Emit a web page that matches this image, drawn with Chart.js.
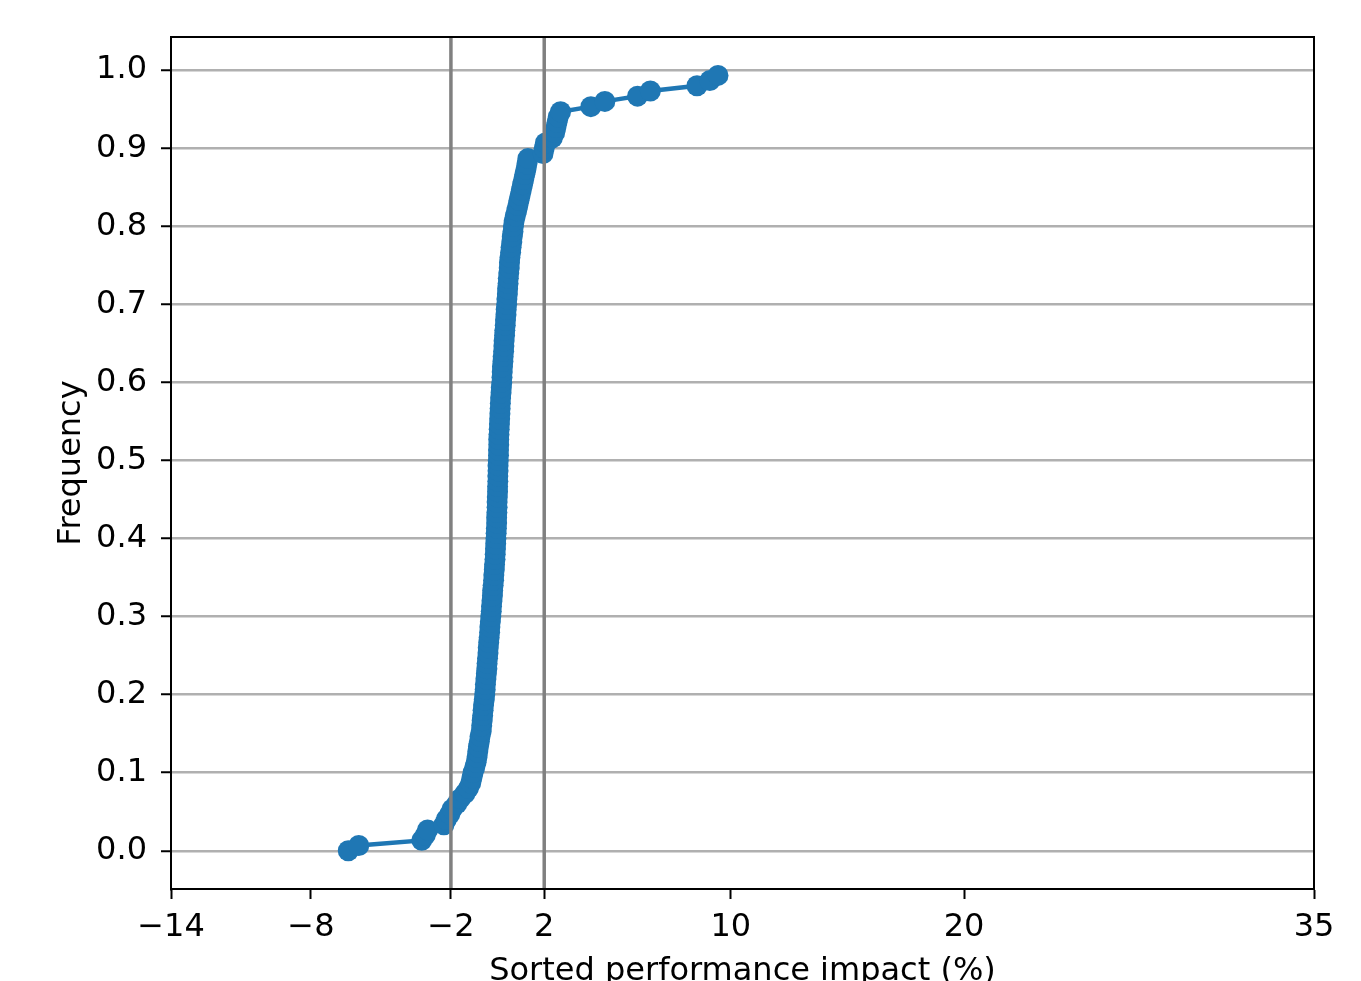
<!DOCTYPE html>
<html><head><meta charset="utf-8">
<script src="https://cdn.jsdelivr.net/npm/chart.js@4.4.1/dist/chart.umd.min.js"></script>
<style>html,body{margin:0;padding:0;background:#fff;overflow:hidden}#wrap{width:1361px;height:981px}</style>
</head><body><div id="wrap"><canvas id="c" width="1361" height="981"></canvas></div>
<script>
// Sorted performance impact (%) values
const impact = [
  -6.40,-5.95,-3.25,-3.10,-3.00,-2.30,-2.20,-2.05,-1.95,-1.75,-1.60,-1.40,-1.25,-1.15,-1.10,
  -1.05,-0.98,-0.92,-0.88,-0.85,-0.82,-0.78,-0.75,-0.70,-0.68,-0.66,-0.64,-0.62,-0.60,-0.57,
  -0.55,-0.53,-0.52,-0.50,-0.48,-0.46,-0.45,-0.43,-0.41,-0.40,-0.38,-0.36,-0.34,-0.33,-0.31,
  -0.29,-0.27,-0.26,-0.24,-0.22,-0.21,-0.19,-0.17,-0.16,-0.14,-0.13,-0.11,-0.10,-0.09,-0.08,
  -0.07,-0.06,-0.05,-0.04,-0.04,-0.03,-0.02,-0.02,-0.01,0.00,0.00,0.01,0.01,0.02,0.02,
  0.03,0.04,0.04,0.05,0.05,0.06,0.07,0.08,0.09,0.10,0.11,0.12,0.13,0.15,0.16,
  0.18,0.19,0.20,0.21,0.23,0.24,0.26,0.27,0.28,0.30,0.31,0.33,0.34,0.36,0.37,
  0.39,0.40,0.42,0.43,0.45,0.46,0.48,0.50,0.51,0.53,0.56,0.58,0.61,0.63,0.66,
  0.68,0.71,0.76,0.82,0.87,0.92,0.97,1.02,1.07,1.12,1.17,1.22,1.26,1.30,1.95,
  2.00,2.05,2.35,2.45,2.50,2.55,2.60,2.70,4.00,4.60,6.00,6.55,8.55,9.10,9.45
];
// Cumulative frequency values
const frequency = [
  0.0000,0.0067,0.0133,0.0200,0.0267,0.0333,0.0400,0.0467,0.0533,0.0600,0.0667,0.0733,0.0800,0.0867,0.0933,
  0.1000,0.1067,0.1133,0.1200,0.1267,0.1333,0.1400,0.1467,0.1533,0.1600,0.1667,0.1733,0.1800,0.1867,0.1933,
  0.2000,0.2067,0.2133,0.2200,0.2267,0.2333,0.2400,0.2467,0.2533,0.2600,0.2667,0.2733,0.2800,0.2867,0.2933,
  0.3000,0.3067,0.3133,0.3200,0.3267,0.3333,0.3400,0.3467,0.3533,0.3600,0.3667,0.3733,0.3800,0.3867,0.3933,
  0.4000,0.4067,0.4133,0.4200,0.4267,0.4333,0.4400,0.4467,0.4533,0.4600,0.4667,0.4733,0.4800,0.4867,0.4933,
  0.5000,0.5067,0.5133,0.5200,0.5267,0.5333,0.5400,0.5467,0.5533,0.5600,0.5667,0.5733,0.5800,0.5867,0.5933,
  0.6000,0.6067,0.6133,0.6200,0.6267,0.6333,0.6400,0.6467,0.6533,0.6600,0.6667,0.6733,0.6800,0.6867,0.6933,
  0.7000,0.7067,0.7133,0.7200,0.7267,0.7333,0.7400,0.7467,0.7533,0.7600,0.7667,0.7733,0.7800,0.7867,0.7933,
  0.8000,0.8067,0.8133,0.8200,0.8267,0.8333,0.8400,0.8467,0.8533,0.8600,0.8667,0.8733,0.8800,0.8867,0.8933,
  0.9000,0.9067,0.9133,0.9200,0.9267,0.9333,0.9400,0.9467,0.9533,0.9600,0.9667,0.9733,0.9800,0.9867,0.9933
];
const thresholds = [-2, 2];
const xTicks = [-14, -8, -2, 2, 10, 20, 35];
const yTicks = [0, 0.1, 0.2, 0.3, 0.4, 0.5, 0.6, 0.7, 0.8, 0.9, 1.0];
const xTitle = 'Sorted performance impact (%)';
const yTitle = 'Frequency';

const FONT = 'DejaVu Sans';
const FS = 32;
const blue = '#1f77b4';

const datasets = [{
  data: impact.map((x, i) => ({x: x, y: frequency[i]})),
  showLine: true,
  borderColor: blue,
  backgroundColor: blue,
  borderWidth: 4.5,
  pointRadius: 10.5,
  pointBorderWidth: 0,
  pointHoverRadius: 10.5,
  order: 2,
  clip: false
}];
thresholds.forEach(t => datasets.push({
  data: [{x: t, y: -1}, {x: t, y: 2}],
  showLine: true,
  borderColor: '#808080',
  borderWidth: 3.5,
  pointRadius: 0,
  order: 1,
  clip: 0
}));

const frame = {
  id: 'frame',
  afterDraw(chart) {
    const {ctx, chartArea: a} = chart;
    ctx.save();
    ctx.strokeStyle = '#000';
    ctx.lineWidth = 2;
    ctx.strokeRect(a.left, a.top, a.right - a.left, a.bottom - a.top);
    ctx.fillStyle = '#000';
    ctx.font = FS + 'px "' + FONT + '"';
    ctx.textAlign = 'center';
    ctx.textBaseline = 'alphabetic';
    ctx.fillText(xTitle, (a.left + a.right) / 2, 980);
    ctx.translate(80, (a.top + a.bottom) / 2);
    ctx.rotate(-Math.PI / 2);
    ctx.fillText(yTitle, 0, 0);
    ctx.restore();
  }
};

new Chart(document.getElementById('c'), {
  type: 'scatter',
  data: {datasets: datasets},
  options: {
    responsive: false,
    animation: false,
    devicePixelRatio: 1,
    layout: {padding: {left: 0, right: 47, top: 37, bottom: 0}},
    plugins: {legend: {display: false}, tooltip: {enabled: false}},
    scales: {
      x: {
        type: 'linear', min: -14, max: 35,
        afterBuildTicks: s => { s.ticks = xTicks.map(v => ({value: v})); },
        afterFit: s => { s.height = 92; },
        grid: {drawOnChartArea: false, drawTicks: true, tickLength: 10, tickColor: '#000', tickWidth: 2},
        border: {color: '#000', width: 2},
        ticks: {
          font: {family: FONT, size: FS}, color: '#000', padding: 9,
          maxRotation: 0, autoSkip: false,
          callback: v => (v < 0 ? '\u2212' + Math.abs(v) : String(v))
        }
      },
      y: {
        type: 'linear', min: -0.049, max: 1.0425,
        afterBuildTicks: s => { s.ticks = yTicks.map(v => ({value: v})); },
        afterFit: s => { s.width = 171; },
        grid: {drawOnChartArea: true, color: '#b0b0b0', lineWidth: 2.5, drawTicks: true, tickLength: 10, tickColor: '#000', tickWidth: 2},
        border: {color: '#000', width: 2},
        ticks: {
          font: {family: FONT, size: FS}, color: '#000', padding: 14,
          autoSkip: false,
          callback: v => v.toFixed(1)
        }
      }
    }
  },
  plugins: [frame]
});
</script>
</body></html>
